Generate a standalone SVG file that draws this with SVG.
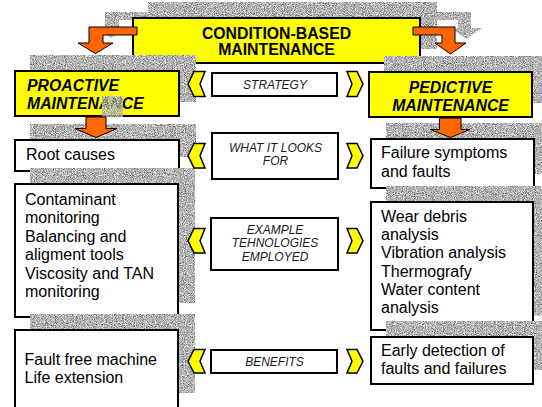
<svg xmlns="http://www.w3.org/2000/svg" width="542" height="407" viewBox="0 0 542 407">
  <defs>
    <!-- stippled grey fill used for the drop shadows -->
    <filter id="grain" x="0%" y="0%" width="100%" height="100%" color-interpolation-filters="sRGB">
      <feTurbulence type="fractalNoise" baseFrequency="1.1" numOctaves="1" seed="7" result="noise"/>
      <feColorMatrix in="noise" type="matrix" values="0.9 0.9 0 0 -0.2  0.9 0.9 0 0 -0.2  0.9 0.9 0 0 -0.2  0 0 0 0 1" result="grey"/>
      <feComposite in="grey" in2="SourceGraphic" operator="in"/>
    </filter>
    <style>
      .shadow { fill: #000; filter: url(#grain); }
      .ybox { fill: #ffff00; stroke: #000; stroke-width: 2; }
      .box { fill: #fff; stroke: #000; stroke-width: 2; }
      .arrow { fill: #ff6600; stroke: #000; stroke-width: 1; stroke-linejoin: miter; }
      .chev { fill: #ffff00; stroke: #000; stroke-width: 1.5; stroke-linejoin: miter; }
      .hd { font-family: "Liberation Sans", Arial, sans-serif; font-weight: bold; font-size: 15.8px; fill: #000; }
      .it { font-style: italic; }
      .mid { text-anchor: middle; }
      .tag { font-family: "Liberation Sans", Arial, sans-serif; font-style: italic; font-size: 12px; text-anchor: middle; fill: #1a1a1a; }
      .body { font-family: "Liberation Sans", Arial, sans-serif; font-size: 16px; fill: #000; }
    </style>
  </defs>

  <rect width="542" height="407" fill="#fff"/>

  <!-- shadows of the two bent arrows, sitting behind the top box -->
  <g id="connector-shadows">
    <path class="shadow" d="M153,12 L105,12 L105,28 L94,28 L111.5,38 L129,28 L119,28 L119,20 L153,20 Z"/>
    <path class="shadow" d="M429,12 L471,12 L471,28 L482,28 L466.5,39 L451,28 L458,28 L458,20 L429,20 Z"/>
  </g>

  <g id="cbm">
    <rect class="shadow" x="148" y="2" width="289" height="47"/>
    <rect class="ybox" x="133" y="18" width="287" height="45"/>
    <text class="hd mid" x="276.5" y="38.5">CONDITION-BASED</text>
    <text class="hd mid" x="276.5" y="55">MAINTENANCE</text>
  </g>

  <g id="proactive">
    <rect class="shadow" x="30" y="55" width="166" height="47"/>
    <rect class="ybox" x="15" y="71" width="164" height="45"/>
    <text class="hd it" x="27" y="90.7">PROACTIVE</text>
    <text class="hd it" x="27" y="109">MAINTENANCE</text>
  </g>

  <g id="predictive">
    <rect class="shadow" x="384" y="56" width="165" height="47"/>
    <rect class="ybox" x="369" y="72" width="163" height="45"/>
    <text class="hd it mid" x="450.5" y="93.3">PEDICTIVE</text>
    <text class="hd it mid" x="450.5" y="110.5">MAINTENANCE</text>
  </g>

  <g id="strategy">
    <rect class="box" x="212" y="73" width="125" height="23"/>
    <text class="tag" x="275" y="89.3">STRATEGY</text>
  </g>

  <g id="root-causes">
    <rect class="shadow" x="30" y="124" width="166" height="33"/>
    <rect class="box" x="15" y="140" width="164" height="31"/>
    <text class="body" x="26" y="160">Root causes</text>
  </g>

  <g id="failure-symptoms">
    <rect class="shadow" x="386" y="123" width="165" height="51"/>
    <rect class="box" x="371" y="139" width="163" height="49"/>
    <text class="body" x="381" y="158.3">Failure symptoms</text>
    <text class="body" x="381" y="176.7">and faults</text>
  </g>

  <g id="looks-for">
    <rect class="box" x="212" y="133" width="126" height="46"/>
    <text class="tag" x="275.5" y="151.7">WHAT IT LOOKS</text>
    <text class="tag" x="275.5" y="165">FOR</text>
  </g>

  <g id="proactive-tech">
    <rect class="shadow" x="30" y="168" width="165" height="135"/>
    <rect class="box" x="15" y="184" width="163" height="133"/>
    <text class="body" x="25" y="205">Contaminant</text>
    <text class="body" x="25" y="223.4">monitoring</text>
    <text class="body" x="25" y="241.8">Balancing and</text>
    <text class="body" x="25" y="260.2">aligment tools</text>
    <text class="body" x="25" y="278.6">Viscosity and TAN</text>
    <text class="body" x="25" y="297">monitoring</text>
  </g>

  <g id="predictive-tech">
    <rect class="shadow" x="386" y="186" width="164" height="130"/>
    <rect class="box" x="371" y="202" width="162" height="128"/>
    <text class="body" x="381" y="221.7">Wear debris</text>
    <text class="body" x="381" y="240">analysis</text>
    <text class="body" x="381" y="258.3">Vibration analysis</text>
    <text class="body" x="381" y="276.6">Thermografy</text>
    <text class="body" x="381" y="295">Water content</text>
    <text class="body" x="381" y="313.3">analysis</text>
  </g>

  <g id="technologies">
    <rect class="box" x="211" y="218" width="127" height="52"/>
    <text class="tag" x="275" y="233.7">EXAMPLE</text>
    <text class="tag" x="275" y="247.3">TEHNOLOGIES</text>
    <text class="tag" x="275" y="261">EMPLOYED</text>
  </g>

  <g id="proactive-benefits">
    <rect class="shadow" x="30" y="314" width="165" height="79"/>
    <rect class="box" x="15" y="330" width="163" height="90"/>
    <text class="body" x="24.5" y="365">Fault free machine</text>
    <text class="body" x="24.5" y="383.3">Life extension</text>
  </g>

  <g id="predictive-benefits">
    <rect class="shadow" x="386" y="321" width="164" height="49"/>
    <rect class="box" x="371" y="337" width="162" height="47"/>
    <text class="body" x="381" y="356">Early detection of</text>
    <text class="body" x="381" y="374.3">faults and failures</text>
  </g>

  <g id="benefits">
    <rect class="box" x="211" y="350" width="126" height="23"/>
    <text class="tag" x="274.5" y="365.7">BENEFITS</text>
  </g>

  <g id="connectors">
    <!-- shadow of the left down arrow falling on the yellow box -->
    <rect class="shadow" x="102" y="96" width="21" height="21" opacity="0.8"/>

    <!-- bent arrows from the top box -->
    <path class="arrow" d="M137,27 L89,27 L89,43 L78,43 L95.5,53.5 L113,43 L103,43 L103,35 L137,35 Z"/>
    <path class="arrow" d="M413,27 L455,27 L455,43 L466,43 L450.5,54 L435,43 L442,43 L442,35 L413,35 Z"/>

    <!-- straight down arrows -->
    <path class="arrow" d="M86,117 L106,117 L106,128.5 L117,128.5 L96,137.5 L75,128.5 L86,128.5 Z"/>
    <path class="arrow" d="M439.5,118 L461,118 L461,129.5 L470,129.5 L450.3,137.5 L430.5,129.5 L439.5,129.5 Z"/>

    <!-- chevrons beside each label -->
    <path class="chev" d="M194,71.5 L205,71.5 L200,84 L205,96.5 L194,96.5 L188,84 Z"/>
    <path class="chev" d="M347,71.5 L357,71.5 L363,84 L357,96.5 L347,96.5 L352,84 Z"/>
    <path class="chev" d="M194,143.5 L205,143.5 L200,155.7 L205,168 L194,168 L188,155.7 Z"/>
    <path class="chev" d="M347,143.5 L357,143.5 L363,155.7 L357,168 L347,168 L352,155.7 Z"/>
    <path class="chev" d="M194,228.5 L205,228.5 L200,240.7 L205,253 L194,253 L188,240.7 Z"/>
    <path class="chev" d="M347,228.5 L357,228.5 L363,240.7 L357,253 L347,253 L352,240.7 Z"/>
    <path class="chev" d="M194,349.5 L205,349.5 L200,361.3 L205,373 L194,373 L188,361.3 Z"/>
    <path class="chev" d="M347,349.5 L357,349.5 L363,361.3 L357,373 L347,373 L352,361.3 Z"/>
  </g>
</svg>
